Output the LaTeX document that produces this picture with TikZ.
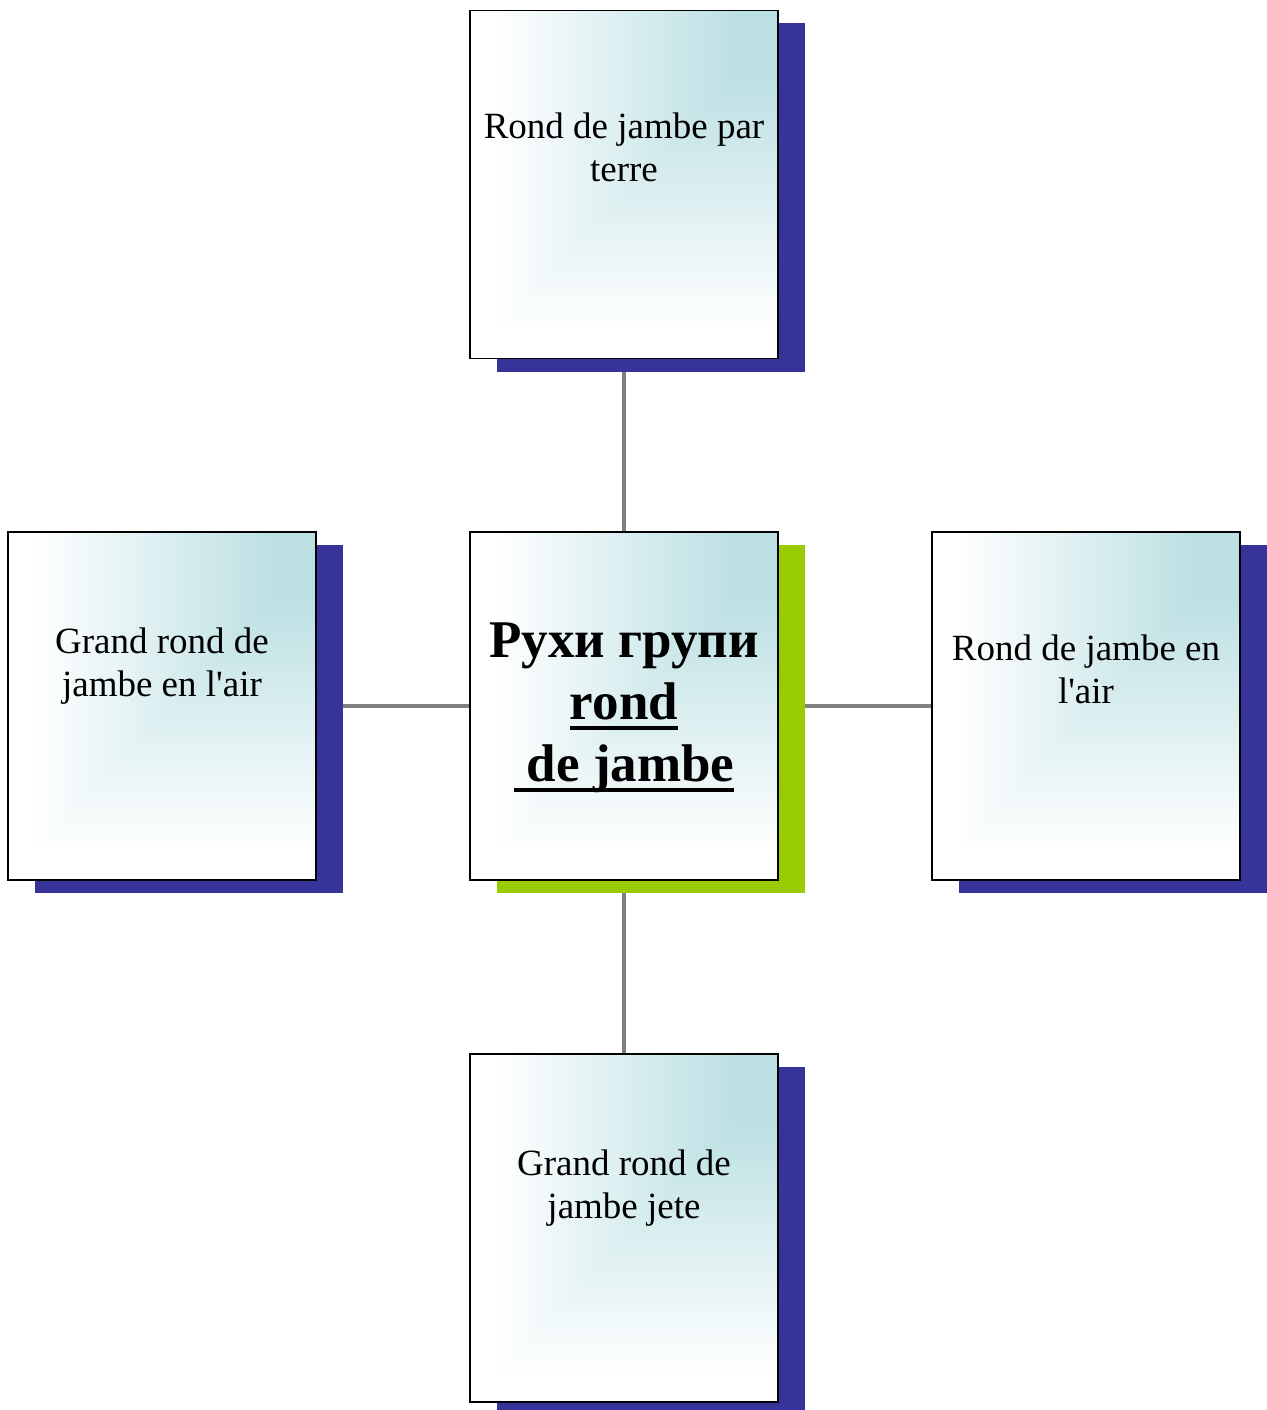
\documentclass[tikz,border=0pt]{standalone}
\usepackage{fontspec}
\setmainfont{Liberation Serif}
\usetikzlibrary{shadows,backgrounds}

\definecolor{shadowblue}{RGB}{54,52,153}
\definecolor{shadowgreen}{RGB}{153,204,0}
\definecolor{linkgray}{RGB}{128,128,128}

% White towards the left and bottom edges, teal in the upper right corner
\pgfdeclarefunctionalshading{cornerfade}{\pgfpoint{-50bp}{-50bp}}{\pgfpoint{50bp}{50bp}}{}{
  25 add 50 div 0.08 sub 0.75 div dup 0 lt {pop 0} if dup 1 gt {pop 1} if
  exch
  25 add 50 div 0.08 sub 0.8 div dup 0 lt {pop 0} if dup 1 gt {pop 1} if
  2 copy gt {exch} if pop
  dup 0.267 mul 1 exch sub exch dup 0.125 mul 1 exch sub exch 0.114 mul 1 exch sub
}

\newsavebox\ulbox
\newcommand\ulbar[1]{\sbox\ulbox{#1}\rlap{\rule[-11pt]{\wd\ulbox}{4.5pt}}\usebox\ulbox}

\tikzset{
  card/.style={rectangle, draw=black, line width=1.6pt, inner sep=0pt,
    minimum width=308pt, minimum height=348pt, shading=cornerfade},
  blueshadow/.style={general shadow={fill=shadowblue, shadow xshift=27pt, shadow yshift=-13pt}},
  greenshadow/.style={general shadow={fill=shadowgreen, shadow xshift=27pt, shadow yshift=-13pt}},
  cardtext/.style={anchor=north, inner sep=0pt, align=center,
    font=\fontsize{37}{43}\selectfont},
  hubtext/.style={anchor=north, inner sep=0pt, align=center,
    font=\fontsize{53}{62}\selectfont\bfseries},
  link/.style={draw=linkgray, line width=4.6pt}
}

\begin{document}
\begin{tikzpicture}[x=1pt,y=-1pt]
  \useasboundingbox (0,0) rectangle (1266,1410);

  % boxes
  \node[card, blueshadow]  (top)   at (624,184.5) {};
  \node[card, blueshadow]  (left)  at (162,706)   {};
  \node[card, greenshadow] (hub)   at (624,706)   {};
  \node[card, blueshadow]  (right) at (1086,706)  {};
  \node[card, blueshadow]  (bot)   at (624,1228)  {};

  % texts
  \node[cardtext] (ttop)   at (624,108)   {\strut Rond de jambe par\\terre};
  \node[cardtext] (tleft)  at (162,623)   {\strut Grand rond de\\jambe en l\textquotesingle air};
  \node[hubtext]  (thub)   at (624,613.6) {\strut Рухи групи\\\ulbar{rond}\\\ulbar{\hspace*{0.25em}de jambe}};
  \node[cardtext] (tright) at (1086,630)  {\strut Rond de jambe en\\l\textquotesingle air};
  \node[cardtext] (tbot)   at (624,1145)  {\strut Grand rond de\\jambe jete};

  % connectors, kept behind the boxes and their shadows
  \begin{scope}[on background layer]
    \draw[link] (top.center) -- (hub.center);
    \draw[link] (hub.center) -- (bot.center);
    \draw[link] (left.center) -- (hub.center);
    \draw[link] (hub.center) -- (right.center);
  \end{scope}
\end{tikzpicture}
\end{document}
